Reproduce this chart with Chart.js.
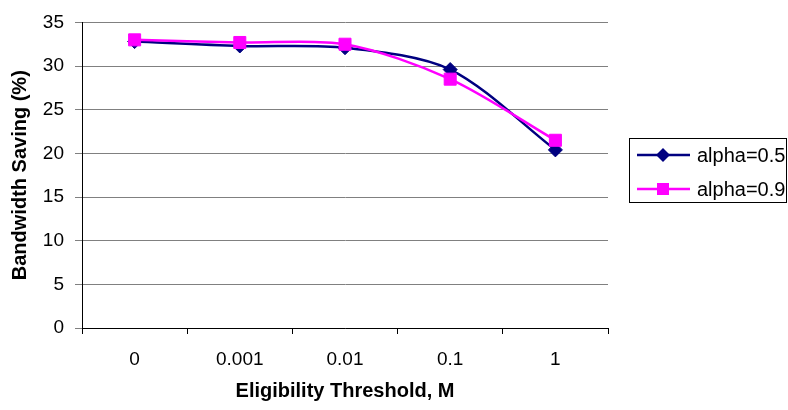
<!DOCTYPE html>
<html>
<head>
<meta charset="utf-8">
<script src="https://cdn.jsdelivr.net/npm/chart.js@4/dist/chart.umd.min.js"></script>
<style>
  html, body { margin: 0; padding: 0; background: #fff; }
  #wrap { width: 788px; height: 410px; }
</style>
</head>
<body>
<div id="wrap"><canvas id="chart" width="788" height="410"></canvas></div>
<script>
// --- DATA ---
const thresholds = ['0', '0.001', '0.01', '0.1', '1'];
const alpha05 = [32.8, 32.3, 32.1, 29.6, 20.4];
const alpha09 = [33.0, 32.7, 32.5, 28.5, 21.5];
const seriesNames = ['alpha=0.5', 'alpha=0.9'];

const FONT = 'Liberation Sans, Arial, sans-serif';
const NAVY = '#000080';
const PINK = '#FF00FF';

// legend drawn by hand so it gets the boxed Excel look
const boxLegend = {
  id: 'boxLegend',
  afterDraw(chart) {
    const ctx = chart.ctx;
    ctx.save();
    ctx.strokeStyle = '#000';
    ctx.lineWidth = 1;
    ctx.strokeRect(629.5, 138.5, 157, 64);

    const rows = [
      { name: seriesNames[0], color: NAVY, shape: 'diamond', y: 155 },
      { name: seriesNames[1], color: PINK, shape: 'square', y: 189 }
    ];
    rows.forEach(r => {
      ctx.strokeStyle = r.color;
      ctx.fillStyle = r.color;
      ctx.lineWidth = 2.5;
      ctx.beginPath();
      ctx.moveTo(637, r.y);
      ctx.lineTo(690, r.y);
      ctx.stroke();
      ctx.beginPath();
      if (r.shape === 'diamond') {
        ctx.moveTo(663 - 7, r.y);
        ctx.lineTo(663, r.y - 7);
        ctx.lineTo(663 + 7, r.y);
        ctx.lineTo(663, r.y + 7);
        ctx.closePath();
      } else {
        ctx.rect(663 - 6, r.y - 6, 12, 12);
      }
      ctx.fill();
      ctx.fillStyle = '#000';
      ctx.font = '20px ' + FONT;
      ctx.textAlign = 'left';
      ctx.textBaseline = 'middle';
      ctx.fillText(r.name, 697, r.y + 1);
    });
    ctx.restore();
  }
};

new Chart(document.getElementById('chart'), {
  type: 'line',
  data: {
    labels: thresholds,
    datasets: [{
      label: seriesNames[0],
      data: alpha05,
      borderColor: NAVY,
      backgroundColor: NAVY,
      borderWidth: 2.5,
      pointStyle: 'rectRot',
      pointRadius: 7,
      pointBorderWidth: 1,
      tension: 0.3,
      order: 1
    }, {
      label: seriesNames[1],
      data: alpha09,
      borderColor: PINK,
      backgroundColor: PINK,
      borderWidth: 2.5,
      pointStyle: 'rect',
      pointRadius: 8.5,
      pointBorderWidth: 1,
      tension: 0.3,
      order: 0
    }]
  },
  options: {
    responsive: false,
    animation: false,
    layout: { padding: { left: 0, right: 180, top: 17, bottom: 0 } },
    plugins: {
      legend: { display: false },
      tooltip: { enabled: false }
    },
    scales: {
      x: {
        offset: true,
        afterFit: scale => { scale.height = 82; },
        border: { color: '#000', width: 1 },
        grid: { drawOnChartArea: false, drawTicks: true, tickLength: 6, color: '#000', offset: true },
        ticks: { color: '#000', padding: 14, font: { family: FONT, size: 19 } },
        title: {
          display: true,
          text: 'Eligibility Threshold, M',
          color: '#000',
          padding: { top: 0, bottom: 7 },
          font: { family: FONT, size: 20, weight: 'bold' }
        }
      },
      y: {
        min: 0,
        max: 35,
        afterFit: scale => { scale.width = 82; },
        border: { color: '#000', width: 1 },
        grid: { color: '#808080', lineWidth: 1, tickLength: 7 },
        ticks: { stepSize: 5, color: '#000', padding: 11, font: { family: FONT, size: 19 } },
        title: {
          display: true,
          text: 'Bandwidth Saving (%)',
          color: '#000',
          padding: { top: 8, bottom: 0 },
          font: { family: FONT, size: 20, weight: 'bold' }
        }
      }
    }
  },
  plugins: [boxLegend]
});
</script>
</body>
</html>
